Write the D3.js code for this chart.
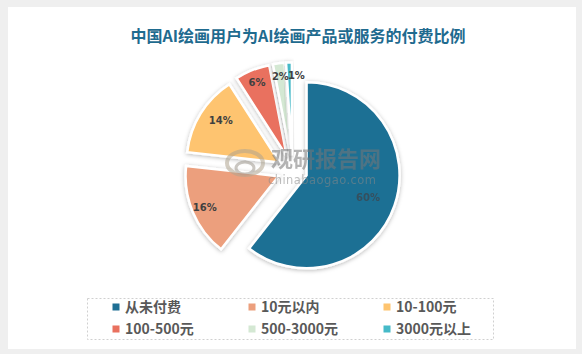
<!DOCTYPE html>
<html><head><meta charset="utf-8">
<script src="https://cdn.jsdelivr.net/npm/d3@7"></script>
<style>body{margin:0;background:#fff}svg{display:block}</style>
</head><body>
<svg id="c" width="582" height="354"></svg>
<script>
const categories = ["从未付费","10元以内","10-100元","100-500元","500-3000元","3000元以上"];
const values = [60,16,14,6,2,1];
const labels = ["60%","16%","14%","6%","2%","1%"];
const colors = ["#1e6f94","#ec9f7d","#fec46f","#e9715f","#d4e8d3","#46bac8"];
const title = "中国AI绘画用户为AI绘画产品或服务的付费比例";

const svg = d3.select("#c");
const W = 582, H = 354;
svg.append("rect").attr("width",W).attr("height",H).attr("fill","#efefef");
svg.append("rect").attr("x",8).attr("y",7).attr("width",568).attr("height",342).attr("fill","#fff");

const defs = svg.append("defs");
const f = defs.append("filter").attr("id","sh").attr("x","-20%").attr("y","-20%").attr("width","140%").attr("height","140%");
f.append("feDropShadow").attr("dx",0).attr("dy",1).attr("stdDeviation",2.2).attr("flood-color","#000").attr("flood-opacity",0.28);

svg.append("text").attr("x",298).attr("y",42).attr("text-anchor","middle")
  .attr("font-family","'Noto Sans CJK SC', sans-serif").attr("font-weight","bold")
  .attr("font-size",16).attr("fill","#1f6b8f").text(title);

const cx = 292.4, cy = 170.4, r = 93, off = 15;
const pie = d3.pie().sort(null).value(d => d);
const arcs = pie(values);
const arc = d3.arc().innerRadius(0).outerRadius(r);
const g = svg.append("g").attr("transform",`translate(${cx},${cy})`);
g.selectAll("path").data(arcs).join("path")
  .attr("d",arc)
  .attr("transform",d => {const a=(d.startAngle+d.endAngle)/2; return `translate(${Math.sin(a)*off},${-Math.cos(a)*off})`;})
  .attr("fill",(d,i)=>colors[i])
  .attr("stroke","#fff").attr("stroke-width",2.5)
  .attr("filter","url(#sh)");

// watermark
const wm = svg.append("g").attr("opacity",0.55);
wm.append("ellipse").attr("cx",245).attr("cy",163).attr("rx",18).attr("ry",12).attr("fill","none").attr("stroke","#b0a590").attr("stroke-width",4);
wm.append("ellipse").attr("cx",245).attr("cy",168).attr("rx",9).attr("ry",6).attr("fill","none").attr("stroke","#a09a90").attr("stroke-width",3);
wm.append("text").attr("x",271).attr("y",167).attr("font-family","'Noto Sans CJK SC', sans-serif").attr("font-weight","bold").attr("font-size",22).attr("fill","#777").text("观研报告网");
wm.append("text").attr("x",268).attr("y",184).attr("font-family","'DejaVu Sans', sans-serif").attr("font-size",11.5).attr("fill","#888").attr("textLength",108).text("chinabaogao.com");

// labels
let prevX = null;
arcs.forEach((d,i) => {
  const a = (d.startAngle+d.endAngle)/2;
  const lr = (i===0 ? 65 : 80) + off;
  let x = cx + Math.sin(a)*lr, y = cy - Math.cos(a)*lr;
  if (prevX !== null && Math.abs(x - prevX) < 15) x = prevX + 16;
  prevX = x;
  svg.append("text").attr("x",x).attr("y",y+4).attr("text-anchor","middle")
    .attr("font-family","'DejaVu Sans', sans-serif").attr("font-weight","bold")
    .attr("font-size",10).attr("fill",i===0?"#3a4a55":"#404040").attr("opacity",i===0?0.85:1).text(labels[i]);
});

// legend
svg.append("rect").attr("x",87.5).attr("y",298.5).attr("width",406).attr("height",41)
  .attr("fill","#fff").attr("stroke","#d0d0d0").attr("stroke-dasharray","2,2");
const colX = [116,252,387], rowY = [307,329];
categories.forEach((c,i) => {
  const x = colX[i%3], y = rowY[Math.floor(i/3)];
  svg.append("rect").attr("x",x-3.5).attr("y",y-3.5).attr("width",7).attr("height",7).attr("fill",colors[i]);
  svg.append("text").attr("x",x+9).attr("y",y+5).attr("font-family","'Noto Sans CJK SC', sans-serif")
    .attr("font-weight","bold").attr("font-size",14).attr("fill","#595959").text(c);
});
</script>
</body></html>
